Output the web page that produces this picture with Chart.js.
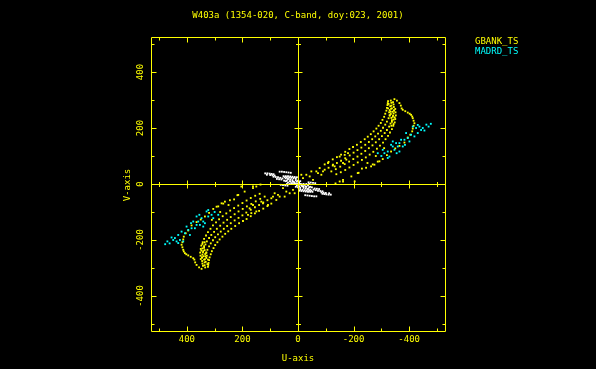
<!DOCTYPE html>
<html>
<head>
<meta charset="utf-8">
<script src="https://cdn.jsdelivr.net/npm/chart.js@4.4.0/dist/chart.umd.min.js"></script>
<style>
  html, body { margin: 0; padding: 0; background: #000; }
  #uvChart { display: block; }
</style>
</head>
<body>
<canvas id="uvChart" width="596" height="369"></canvas>
<script>
"use strict";

const plotTitle = 'W403a (1354-020, C-band, doy:023, 2001)';
const xTitle = 'U-axis';
const yTitle = 'V-axis';
const seriesNames = ['GBANK_TS', 'MADRD_TS', 'other'];

// tick marks every 100, labels every 200
const tickValues = [-500, -400, -300, -200, -100, 0, 100, 200, 300, 400, 500];
const labelValues = [400, 200, 0, -200, -400];
const tickLabels = ['400', '200', '0', '-200', '-400'];

// GBANK_TS, [u, v] pairs
const gbankCenter = [[-12,33],[-18,21],[-30,33],[-42,27],[-48,45],[-54,15],[-66,45],[-72,39],[-78,57],[-84,33],[-90,45],[-96,51],[-108,75],[-126,69],[-132,63],[-150,98],[-150,9],[-162,75],[-168,104],[-174,87],[-180,110],
  [12,-33],[18,-21],[30,-33],[42,-27],[48,-45],[54,-15],[66,-45],[72,-39],[78,-57],[84,-33],[90,-45],[96,-51],[108,-75],[126,-69],[132,-63],[150,-98],[150,-9],[162,-75],[168,-104],[174,-87],[180,-110]];

// four dotted tracks making up the main band
const gbankTrack1 = [
  [-96,70],[-110,79],[-125,88],[-140,96],[-155,105],[-170,115],[-185,125],[-198,132],[-212,140],[-226,150],[-240,160],[-251,169],[-262,178],[-272,188],[-282,198],[-290,208],[-298,218],[-304,229],[-310,240],[-314,251],[-318,262],[-320,272],[-322,282],[-323,289],[-324,296],
  [96,-70],[110,-79],[125,-88],[140,-96],[155,-105],[170,-115],[185,-125],[198,-132],[212,-140],[226,-150],[240,-160],[251,-169],[262,-178],[272,-188],[282,-198],[290,-208],[298,-218],[304,-229],[310,-240],[314,-251],[318,-262],[320,-272],[322,-282],[323,-289],[324,-296]];

const gbankTrack2 = [
  [-110,58],[-125,66],[-140,75],[-155,83],[-170,92],[-186,102],[-200,112],[-214,121],[-228,130],[-242,140],[-255,150],[-267,160],[-278,170],[-288,180],[-298,190],[-306,201],[-314,212],[-320,223],[-326,235],[-330,246],[-333,258],[-335,269],[-336,280],[-336,290],[-334,298],
  [110,-58],[125,-66],[140,-75],[155,-83],[170,-92],[186,-102],[200,-112],[214,-121],[228,-130],[242,-140],[255,-150],[267,-160],[278,-170],[288,-180],[298,-190],[306,-201],[314,-212],[320,-223],[326,-235],[330,-246],[333,-258],[335,-269],[336,-280],[336,-290],[334,-298]];

const gbankTrack3 = [
  [-120,45],[-136,53],[-152,62],[-168,71],[-184,80],[-199,89],[-214,98],[-228,108],[-242,118],[-255,128],[-268,138],[-280,149],[-292,160],[-302,171],[-312,182],[-320,193],[-328,205],[-333,216],[-338,228],[-341,240],[-344,252],[-345,263],[-345,275],[-344,284],[-342,292],
  [120,-45],[136,-53],[152,-62],[168,-71],[184,-80],[199,-89],[214,-98],[228,-108],[242,-118],[255,-128],[268,-138],[280,-149],[292,-160],[302,-171],[312,-182],[320,-193],[328,-205],[333,-216],[338,-228],[341,-240],[344,-252],[345,-263],[345,-275],[344,-284],[342,-292]];

const gbankTrack4 = [
  [-138,35],[-154,42],[-170,50],[-185,59],[-200,68],[-215,77],[-230,86],[-244,95],[-258,105],[-271,115],[-284,126],[-295,137],[-306,148],[-315,160],[-324,172],[-331,184],[-338,196],[-343,208],[-348,220],[-350,232],[-352,245],[-351,256],[-350,268],
  [138,-35],[154,-42],[170,-50],[185,-59],[200,-68],[215,-77],[230,-86],[244,-95],[258,-105],[271,-115],[284,-126],[295,-137],[306,-148],[315,-160],[324,-172],[331,-184],[338,-196],[343,-208],[348,-220],[350,-232],[352,-245],[351,-256],[350,-268]];

const gbankHook = [
  [-326,286],[-332,278],[-338,270],[-330,264],[-340,258],[-334,250],[-342,244],[-336,236],[-344,230],[-338,222],[-344,214],[-336,208],[-330,244],[-328,256],[-324,270],[-346,262],[-348,238],
  [326,-286],[332,-278],[338,-270],[330,-264],[340,-258],[334,-250],[342,-244],[336,-236],[344,-230],[338,-222],[344,-214],[336,-208],[330,-244],[328,-256],[324,-270],[346,-262],[348,-238]];

const gbankArc = [
  [-347,303],[-356,298],[-365,289],[-370,280],[-373,270],[-377,265],[-386,260],[-395,255],[-402,251],[-407,247],[-411,241],[-413,235],[-416,226],[-419,217],[-416,208],[-413,198],[-411,188],[-404,176],[-395,166],[-383,148],[-365,136],[-350,127],[-335,116],[-320,103],[-305,89],[-287,80],[-269,70],[-245,58],[-218,40],[-192,27],[-162,15],[-135,2],
  [347,-303],[356,-298],[365,-289],[370,-280],[373,-270],[377,-265],[386,-260],[395,-255],[402,-251],[407,-247],[411,-241],[413,-235],[416,-226],[419,-217],[416,-208],[413,-198],[411,-188],[404,-176],[395,-166],[383,-148],[365,-136],[350,-127],[335,-116],[320,-103],[305,-89],[287,-80],[269,-70],[245,-58],[218,-40],[192,-27],[162,-15],[135,-2]];

const gbankSparse = [
  [-293,81],[-275,69],[-263,63],[-215,39],[-162,9],[-204,9],[-230,55],[-250,75],[-280,100],[-310,128],
  [293,-81],[275,-69],[263,-63],[215,-39],[162,-9],[204,-9],[230,-55],[250,-75],[280,-100],[310,-128]];

// MADRD_TS
const madrdPoints = [
  [-287,110],[-300,100],[-305,122],[-311,110],[-323,116],[-323,93],[-329,98],[-335,140],[-341,134],[-341,152],[-347,122],[-353,146],[-355,110],[-359,134],[-365,116],[-365,146],[-371,158],[-377,134],[-383,158],[-385,140],[-389,182],[-395,164],[-401,152],[-407,176],[-413,205],[-419,170],[-425,200],[-431,182],[-431,211],[-437,205],[-443,193],[-449,200],[-455,191],[-462,212],[-470,205],[-478,215],
  [287,-110],[300,-100],[305,-122],[311,-110],[323,-116],[323,-93],[329,-98],[335,-140],[341,-134],[341,-152],[347,-122],[353,-146],[355,-110],[359,-134],[365,-116],[365,-146],[371,-158],[377,-134],[383,-158],[385,-140],[389,-182],[395,-164],[401,-152],[407,-176],[413,-205],[419,-170],[425,-200],[431,-182],[431,-211],[437,-205],[443,-193],[449,-200],[455,-191],[462,-212],[470,-205],[478,-215]];

// short baselines near the centre (white)
const otherPoints = [
  [118,38],[110,38],[102,37],[95,36],[88,35],[112,33],[100,32],[92,31],[84,30],
  [66,44],[58,44],[50,43],[42,42],[34,41],[26,40],
  [88,26],[80,25],[72,24],[64,22],[56,20],[76,18],[68,17],[60,16],
  [52,28],[44,28],[36,28],[28,27],[20,26],[12,25],[4,24],
  [48,24],[40,24],[32,23],[24,22],[16,21],[8,20],
  [44,20],[36,18],[28,16],[20,14],[40,12],[30,10],[20,8],[12,6],[36,5],[24,3],[14,2],[6,0],
  [50,12],[44,10],[28,9],[16,8],[4,8],[-4,6],[8,14],[0,12],[-8,10],
  [40,0],[30,0],[20,0],[10,0],[0,0],
  [62,-3],[54,-4],[46,-5],[38,-6],
  [-118,-38],[-110,-38],[-102,-37],[-95,-36],[-88,-35],[-112,-33],[-100,-32],[-92,-31],[-84,-30],
  [-66,-44],[-58,-44],[-50,-43],[-42,-42],[-34,-41],[-26,-40],
  [-88,-26],[-80,-25],[-72,-24],[-64,-22],[-56,-20],[-76,-18],[-68,-17],[-60,-16],
  [-52,-28],[-44,-28],[-36,-28],[-28,-27],[-20,-26],[-12,-25],[-4,-24],
  [-48,-24],[-40,-24],[-32,-23],[-24,-22],[-16,-21],[-8,-20],
  [-44,-20],[-36,-18],[-28,-16],[-20,-14],[-40,-12],[-30,-10],[-20,-8],[-12,-6],[-36,-5],[-24,-3],[-14,-2],[-6,0],
  [-50,-12],[-44,-10],[-28,-9],[-16,-8],[-4,-8],[4,-6],[-8,-14],[0,-12],[8,-10],
  [-40,0],[-30,0],[-20,0],[-10,0],
  [-62,3],[-54,4],[-46,5],[-38,6]];

const yellow = '#ffff00';
const cyan = '#00ffff';
const white = '#ffffff';
const fontSpec = '9px "DejaVu Sans Mono", monospace';

function toXY(pairs) {
    return pairs.map(p => ({ x: p[0], y: p[1] }));
}

// frame, ticks, zero lines and all the text
const uvFrame = {
    id: 'uvFrame',
    beforeDraw(chart) {
        const ctx = chart.ctx;
        ctx.save();
        ctx.fillStyle = '#000';
        ctx.fillRect(0, 0, chart.width, chart.height);
        ctx.restore();
    },
    afterDraw(chart) {
        const { ctx, chartArea: a, scales: { x, y } } = chart;
        const px = v => Math.round(x.getPixelForValue(v)) + 0.5;
        const py = v => Math.round(y.getPixelForValue(v)) + 0.5;
        const L = Math.round(a.left) + 0.5, R = Math.round(a.right) + 0.5;
        const T = Math.round(a.top) + 0.5, B = Math.round(a.bottom) + 0.5;
        const x0 = px(0), y0 = py(0);

        ctx.save();
        ctx.strokeStyle = yellow;
        ctx.lineWidth = 1;
        ctx.beginPath();
        ctx.rect(L, T, R - L, B - T);
        ctx.moveTo(x0, T); ctx.lineTo(x0, B);
        ctx.moveTo(L, y0); ctx.lineTo(R, y0);

        tickValues.forEach(v => {
            const major = v % 200 === 0;
            const len = major ? 5 : 3;
            const half = major ? 4 : 2.5;
            const tx = px(v), ty = py(v);
            ctx.moveTo(tx, B); ctx.lineTo(tx, B - len);
            ctx.moveTo(tx, T); ctx.lineTo(tx, T + len);
            ctx.moveTo(L, ty); ctx.lineTo(L + len, ty);
            ctx.moveTo(R, ty); ctx.lineTo(R - len, ty);
            if (v !== 0) {
                ctx.moveTo(tx, y0 - half); ctx.lineTo(tx, y0 + half);
                ctx.moveTo(x0 - half, ty); ctx.lineTo(x0 + half, ty);
            }
        });
        ctx.stroke();

        ctx.font = fontSpec;
        ctx.fillStyle = yellow;
        ctx.textAlign = 'center';
        ctx.textBaseline = 'middle';
        ctx.fillText(plotTitle, 298, 16);
        ctx.fillText(xTitle, 298, 359);

        labelValues.forEach((v, i) => {
            ctx.fillText(tickLabels[i], x.getPixelForValue(v), 340);
            ctx.save();
            ctx.translate(141, y.getPixelForValue(v));
            ctx.rotate(-Math.PI / 2);
            ctx.fillText(tickLabels[i], 0, 0);
            ctx.restore();
        });

        ctx.save();
        ctx.translate(128, 185);
        ctx.rotate(-Math.PI / 2);
        ctx.fillText(yTitle, 0, 0);
        ctx.restore();

        // legend
        ctx.textAlign = 'left';
        ctx.fillStyle = yellow;
        ctx.fillText(chart.data.datasets[0].label, 475, 42);
        ctx.fillStyle = cyan;
        ctx.fillText(chart.data.datasets[1].label, 475, 52);
        ctx.restore();
    }
};

const chartEl = document.getElementById('uvChart');

new Chart(chartEl, {
    type: 'scatter',
    data: {
        datasets: [
            {
                label: seriesNames[0],
                data: toXY(gbankCenter.concat(gbankTrack1, gbankTrack2, gbankTrack3, gbankTrack4, gbankHook, gbankArc, gbankSparse)),
                backgroundColor: yellow,
                order: 2
            },
            {
                label: seriesNames[1],
                data: toXY(madrdPoints),
                backgroundColor: cyan,
                order: 1
            },
            {
                label: seriesNames[2],
                data: toXY(otherPoints),
                backgroundColor: white,
                order: 0
            }
        ]
    },
    options: {
        responsive: false,
        animation: false,
        events: [],
        layout: { padding: { left: 151, right: 151, top: 37, bottom: 38 } },
        elements: { point: { pointStyle: 'rect', radius: 1.3, borderWidth: 0, hoverRadius: 1.3 } },
        scales: {
            x: { type: 'linear', min: -529, max: 529, reverse: true, display: false },
            y: { type: 'linear', min: -525, max: 525, display: false }
        },
        plugins: {
            legend: { display: false },
            tooltip: { enabled: false },
            title: { display: false }
        }
    },
    plugins: [uvFrame]
});
</script>
</body>
</html>
